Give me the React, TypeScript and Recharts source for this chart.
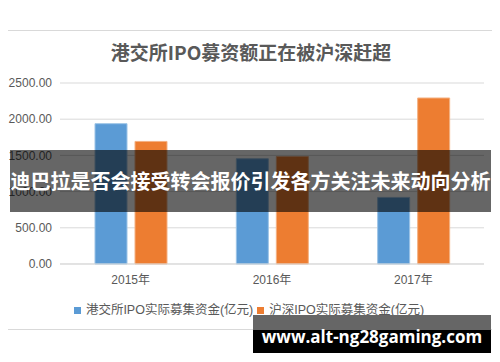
import React from 'react';
import { BarChart, Bar, XAxis, YAxis, CartesianGrid } from 'recharts';

// Data
const years = ['2015年', '2016年', '2017年'];
const hkexIpo = [1938, 1454, 920];
const szshIpo = [1693, 1486, 2293];
const yTicks = [0, 500, 1000, 1500, 2000, 2500];

const series = [
  { key: 'hkex', name: '港交所IPO实际募集资金(亿元)', fill: '#5b9bd5', stroke: '#9cc3e6' },
  { key: 'szsh', name: '沪深IPO实际募集资金(亿元)', fill: '#ed7d31', stroke: '#f4b183' },
];

const data = years.map((year, i) => ({
  year,
  hkex: hkexIpo[i],
  szsh: szshIpo[i],
}));

const FONT = '"Liberation Sans", "Noto Sans CJK SC", sans-serif';
const TEXT = '#595959';

export default function App() {
  return (
    <div
      style={{
        position: 'relative',
        width: 500,
        height: 362,
        margin: -8,
        background: '#fff',
        overflow: 'hidden',
        fontFamily: FONT,
      }}
    >
      {/* chart frame */}
      <div
        style={{
          position: 'absolute',
          left: 1,
          top: 30,
          width: 497,
          height: 298,
          border: '1px solid #d9d9d9',
        }}
      />
      <div
        style={{
          position: 'absolute',
          left: 0,
          top: 39,
          width: 502,
          textAlign: 'center',
          fontFamily: '"Noto Sans CJK SC", sans-serif',
          fontWeight: 700,
          fontSize: 19,
          lineHeight: '26px',
          color: TEXT,
        }}
      >
        港交所IPO募资额正在被沪深赶超
      </div>
      <div style={{ position: 'absolute', left: 0, top: 0 }}>
        <BarChart
          width={500}
          height={362}
          data={data}
          margin={{ top: 83, right: 16, bottom: 68, left: 10 }}
          barSize={32}
          barGap={8}
        >
          <CartesianGrid vertical={false} stroke="#d9d9d9" />
          <XAxis
            dataKey="year"
            height={30}
            axisLine={{ stroke: '#d9d9d9' }}
            tickLine={false}
            tick={{ fill: TEXT, fontSize: 12, fontFamily: FONT }}
            tickMargin={5}
          />
          <YAxis
            width={50}
            domain={[0, 2500]}
            ticks={yTicks}
            axisLine={false}
            tickLine={false}
            tickFormatter={(v: number) => v.toFixed(2)}
            tick={{ fill: TEXT, fontSize: 12, fontFamily: FONT }}
          />
          {series.map(s => (
            <Bar
              key={s.key}
              dataKey={s.key}
              name={s.name}
              fill={s.fill}
              stroke={s.stroke}
              strokeWidth={1}
              isAnimationActive={false}
            />
          ))}
        </BarChart>
      </div>
      {/* legend */}
      <div
        style={{
          position: 'absolute',
          left: 0,
          top: 301,
          width: 502,
          display: 'flex',
          justifyContent: 'center',
          fontSize: 12.5,
          lineHeight: '18px',
          color: TEXT,
          whiteSpace: 'nowrap',
        }}
      >
        {series.map(s => (
          <span key={s.key} style={{ display: 'inline-flex', alignItems: 'center', marginRight: 4 }}>
            <span style={{ width: 7, height: 7, background: s.fill, marginRight: 5 }} />
            {s.name}
          </span>
        ))}
      </div>
      {/* headline banner */}
      <div
        style={{
          position: 'absolute',
          left: 10,
          top: 150,
          width: 481,
          height: 62,
          background: 'rgba(0,0,0,0.6)',
          color: '#fff',
          fontFamily: '"Noto Sans CJK SC", sans-serif',
          fontWeight: 700,
          fontSize: 20,
          lineHeight: '62px',
          textAlign: 'center',
          whiteSpace: 'nowrap',
        }}
      >
        迪巴拉是否会接受转会报价引发各方关注未来动向分析
      </div>
      {/* watermark */}
      <div
        style={{
          position: 'absolute',
          left: 253,
          top: 315,
          width: 238,
          height: 38,
          background: '#000',
        }}
      >
        <div style={{ height: 15, background: '#666' }} />
      </div>
      <div
        style={{
          position: 'absolute',
          left: 253,
          top: 322,
          width: 238,
          textAlign: 'center',
          color: '#fff',
          fontFamily: '"Open Sans", sans-serif',
          fontWeight: 700,
          fontSize: 17,
          lineHeight: '30px',
          whiteSpace: 'nowrap',
        }}
      >
        www.alt-ng28gaming.com
      </div>
    </div>
  );
}
